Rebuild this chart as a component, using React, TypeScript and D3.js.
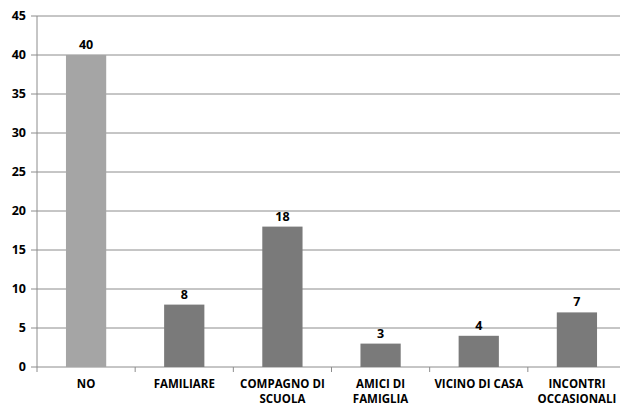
import React from "react";
import { scaleLinear, scaleBand, range } from "d3";

const categories = [
  ["NO"],
  ["FAMILIARE"],
  ["COMPAGNO DI", "SCUOLA"],
  ["AMICI DI", "FAMIGLIA"],
  ["VICINO DI CASA"],
  ["INCONTRI", "OCCASIONALI"],
];
const values = [40, 8, 18, 3, 4, 7];
const yTicks = [0, 5, 10, 15, 20, 25, 30, 35, 40, 45];

const width = 620;
const height = 406;
const left = 37;
const right = 626;
const top = 16;
const bottom = 367;
const font = "'Open Sans', 'Liberation Sans', sans-serif";

export default function App() {
  const keys = categories.map((c) => c.join(" "));
  const xScale = scaleBand().domain(keys).range([left, right]).paddingInner(0.59).paddingOuter(0.295);
  const outer = scaleBand().domain(keys).range([left, right]);
  const yScale = scaleLinear().domain([0, 45]).range([bottom, top]);

  return (
    <svg
      width={width}
      height={height}
      style={{ position: "absolute", left: 0, top: 0, background: "#fff" }}
      fontFamily={font}
    >
      {/* gridlines */}
      {yTicks.map((t) => (
        <g key={t}>
          <line x1={left - 6} x2={width} y1={yScale(t)} y2={yScale(t)} stroke="#8c8c8c" strokeWidth={1} />
          <text x={26} y={yScale(t)} dy="0.35em" textAnchor="end" fontSize={12.5} fontWeight="bold" fill="#000">
            {t}
          </text>
        </g>
      ))}
      <line x1={left} x2={left} y1={top} y2={bottom} stroke="#8c8c8c" />
      {/* category ticks */}
      {range(keys.length + 1).map((i) => {
        const x = i < keys.length ? outer(keys[i])! : right;
        return <line key={i} x1={x} x2={x} y1={bottom} y2={bottom + 5} stroke="#8c8c8c" />;
      })}
      {values.map((v, i) => (
        <g key={keys[i]}>
          <rect
            x={xScale(keys[i])}
            y={yScale(v)}
            width={xScale.bandwidth()}
            height={bottom - yScale(v)}
            fill={i === 0 ? "#a5a5a5" : "#7a7a7a"}
          />
          <text
            x={xScale(keys[i])! + xScale.bandwidth() / 2}
            y={yScale(v) - 6}
            textAnchor="middle"
            fontSize={12.5}
            fontWeight="bold"
            fill="#000"
          >
            {v}
          </text>
          {categories[i].map((line, j) => (
            <text
              key={j}
              x={outer(keys[i])! + outer.bandwidth() / 2}
              y={384 + j * 15}
              dy="0.35em"
              textAnchor="middle"
              fontSize={11.5}
              fontWeight="bold"
              fill="#000"
            >
              {line}
            </text>
          ))}
        </g>
      ))}
    </svg>
  );
}
